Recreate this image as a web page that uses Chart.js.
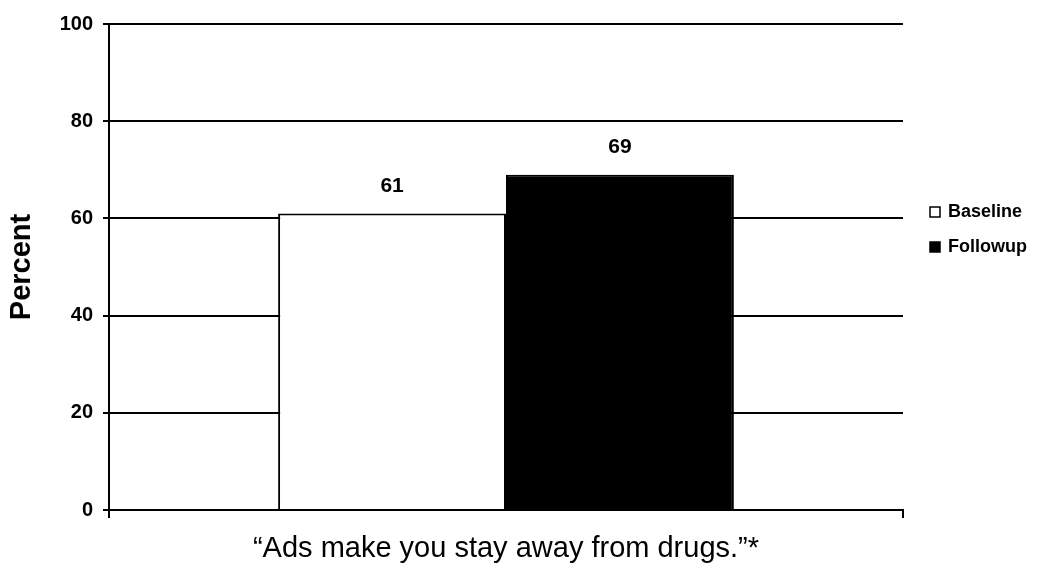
<!DOCTYPE html>
<html>
<head>
<meta charset="utf-8">
<script src="https://cdn.jsdelivr.net/npm/chart.js@4.4.0/dist/chart.umd.min.js"></script>
<style>
  html, body { margin: 0; padding: 0; background: #fff; }
  #wrap { width: 1038px; height: 569px; }
</style>
</head>
<body>
<div id="wrap"><canvas id="chart1"></canvas></div>
<script>
var categories = ['']
var seriesNames = ['Baseline', 'Followup']
var baselineValues = [61]
var followupValues = [69]
var yTicks = [0, 20, 40, 60, 80, 100]
var xTitle = '\u201CAds make you stay away from drugs.\u201D*'

var fontFamily = 'Arial, "Liberation Sans", sans-serif'

// labels above each bar
var valueLabels = {
    id: 'valueLabels',
    afterDatasetsDraw: function (chart) {
        var c = chart.ctx
        c.save()
        c.font = 'bold 21px ' + fontFamily
        c.fillStyle = '#000'
        c.textAlign = 'center'
        c.textBaseline = 'middle'
        chart.data.datasets.forEach(function (ds, i) {
            chart.getDatasetMeta(i).data.forEach(function (bar, j) {
                c.fillText(ds.data[j], bar.x, bar.y - 27)
            })
        })
        c.restore()
    }
}

// legend on the right, drawn by hand
var sideLegend = {
    id: 'sideLegend',
    afterDraw: function (chart) {
        var c = chart.ctx
        c.save()
        c.font = 'bold 18px ' + fontFamily
        c.textBaseline = 'middle'
        c.textAlign = 'left'
        var x = 930, y0 = 212, gap = 35
        chart.data.datasets.forEach(function (ds, i) {
            var y = y0 + i * gap
            c.fillStyle = ds.backgroundColor
            c.fillRect(x, y - 5, 10, 10)
            c.strokeStyle = '#000'
            c.lineWidth = 1.5
            c.strokeRect(x, y - 5, 10, 10)
            c.fillStyle = '#000'
            c.fillText(ds.label, x + 18, y)
        })
        c.restore()
    }
}

var ctx = document.getElementById('chart1')
var chart1 = new Chart(ctx, {
    type: 'bar',
    data: {
        labels: categories,
        datasets: [
            {
                label: seriesNames[0],
                data: baselineValues,
                backgroundColor: '#ffffff',
                borderColor: '#000000',
                borderWidth: 2
            },
            {
                label: seriesNames[1],
                data: followupValues,
                backgroundColor: '#000000',
                borderColor: '#000000',
                borderWidth: 2
            }
        ]
    },
    options: {
        responsive: true,
        maintainAspectRatio: false,
        animation: false,
        categoryPercentage: 0.574,
        barPercentage: 1.0,
        layout: { padding: { top: 24, right: 135, left: 0, bottom: 0 } },
        plugins: {
            legend: { display: false },
            tooltip: { enabled: false }
        },
        scales: {
            x: {
                grid: {
                    display: true,
                    drawOnChartArea: false,
                    drawTicks: true,
                    tickLength: 8,
                    color: '#000',
                    lineWidth: 2,
                    offset: true
                },
                border: { display: true, color: '#000', width: 2 },
                ticks: { display: false },
                title: {
                    display: true,
                    text: xTitle,
                    color: '#000',
                    font: { family: fontFamily, size: 29 },
                    padding: { top: 0, bottom: 3 }
                },
                afterFit: function (scale) { scale.height = 59 }
            },
            y: {
                min: 0,
                max: 100,
                afterBuildTicks: function (scale) {
                    scale.ticks = yTicks.map(function (v) { return { value: v } })
                },
                grid: {
                    color: '#000',
                    lineWidth: 2,
                    tickLength: 6
                },
                border: { display: true, color: '#000', width: 2 },
                ticks: {
                    color: '#000',
                    padding: 10,
                    font: { family: fontFamily, size: 20, weight: 'bold' }
                },
                title: {
                    display: true,
                    text: 'Percent',
                    color: '#000',
                    font: { family: fontFamily, size: 29, weight: 'bold' },
                    padding: { top: 5, bottom: 0 }
                },
                afterFit: function (scale) { scale.width = 109 }
            }
        }
    },
    plugins: [valueLabels, sideLegend]
})
</script>
</body>
</html>
